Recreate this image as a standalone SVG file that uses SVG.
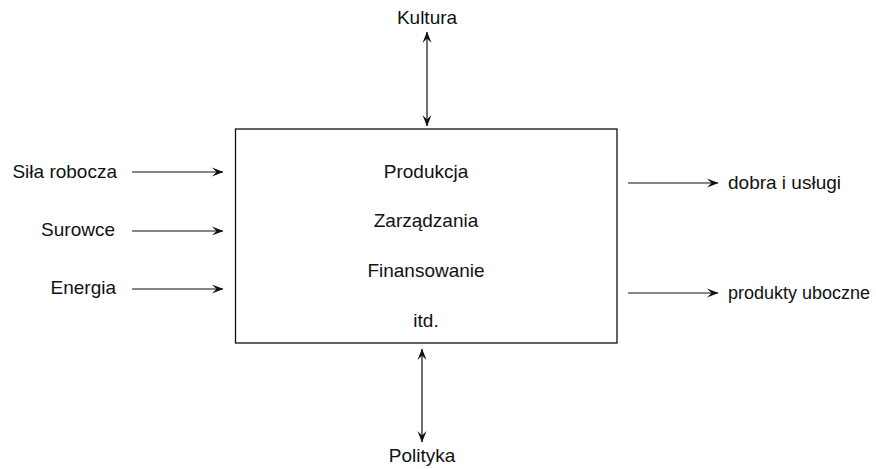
<svg xmlns="http://www.w3.org/2000/svg" width="876" height="469" viewBox="0 0 876 469">
<style>
text{font-family:"Liberation Sans",Arial,sans-serif;font-size:19px;fill:#111}
.c{text-anchor:middle}
.r{text-anchor:end}
.ln{stroke:#111;stroke-width:1.2;fill:none}
.box{fill:#fff;stroke:#111;stroke-width:1.3}
</style>
<defs>
<marker id="ah" viewBox="0 0 12 10" refX="11" refY="5" markerWidth="12" markerHeight="10" markerUnits="userSpaceOnUse" orient="auto-start-reverse">
<path d="M0,0.5 L11.5,5 L0,9.5 L4.5,5 Z" fill="#111"/>
</marker>
</defs>
<g id="system">
<rect class="box" x="235.5" y="129" width="381.5" height="214"/>
<text class="c" x="426" y="178">Produkcja</text>
<text class="c" x="426" y="227">Zarządzania</text>
<text class="c" x="426" y="277">Finansowanie</text>
<text class="c" x="426" y="327">itd.</text>
</g>
<g id="kultura"><text class="c" x="427" y="24">Kultura</text></g>
<g id="polityka"><text class="c" x="422" y="462">Polityka</text></g>
<g id="sila"><text class="r" x="117" y="178">Siła robocza</text></g>
<g id="surowce"><text class="r" x="115" y="236">Surowce</text></g>
<g id="energia"><text class="r" x="116" y="294">Energia</text></g>
<g id="dobra"><text x="728" y="189">dobra i usługi</text></g>
<g id="produkty"><text x="728" y="299" style="font-size:18px">produkty uboczne</text></g>
<g id="connectors">
<line class="ln" x1="132" y1="172" x2="223" y2="172" marker-end="url(#ah)"/>
<line class="ln" x1="132" y1="231" x2="223" y2="231" marker-end="url(#ah)"/>
<line class="ln" x1="132" y1="289" x2="223" y2="289" marker-end="url(#ah)"/>
<line class="ln" x1="628" y1="183" x2="718" y2="183" marker-end="url(#ah)"/>
<line class="ln" x1="628" y1="293" x2="718" y2="293" marker-end="url(#ah)"/>
<line class="ln" x1="427" y1="32" x2="427" y2="126" marker-start="url(#ah)" marker-end="url(#ah)"/>
<line class="ln" x1="422" y1="349" x2="422" y2="442" marker-start="url(#ah)" marker-end="url(#ah)"/>
</g>
</svg>
